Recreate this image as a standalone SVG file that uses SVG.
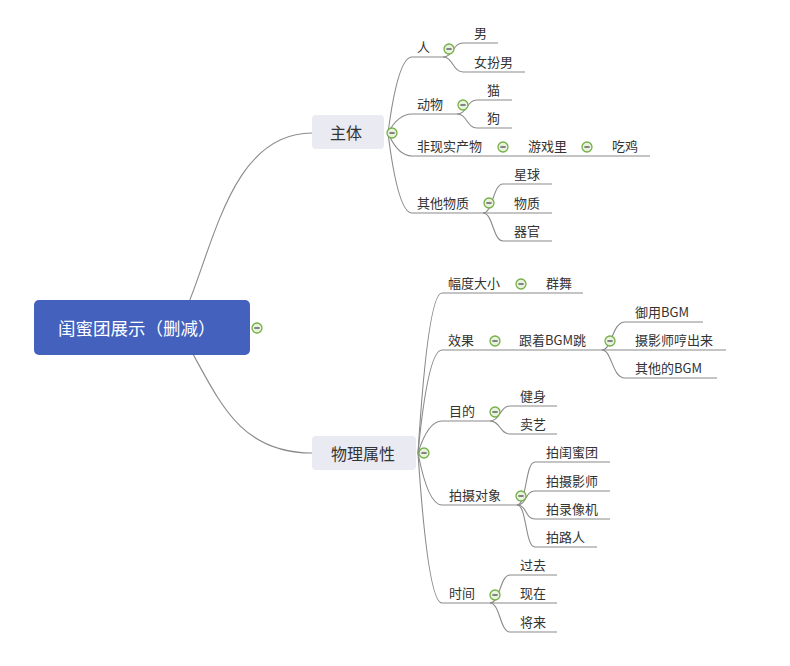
<svg xmlns="http://www.w3.org/2000/svg" xmlns:xlink="http://www.w3.org/1999/xlink" width="790" height="666" viewBox="0 0 790 666">
<style>
.c{fill:none;stroke:#8a8a8a;stroke-width:1.1}
.t{font-family:"Microsoft YaHei","Noto Sans CJK SC","Noto Sans",sans-serif;font-size:13px;fill:#333}
.m{font-family:"Microsoft YaHei","Noto Sans CJK SC","Noto Sans",sans-serif;font-size:16px;fill:#333;text-anchor:middle}
.r{font-family:"Microsoft YaHei","Noto Sans CJK SC","Noto Sans",sans-serif;font-size:17.5px;fill:#fff}
.box{fill:#eaeaf3}
</style>
<defs>
<g id="col">
<circle r="5" fill="#e9f1e0" stroke="#74b043" stroke-width="1.3"/>
<line x1="-2.6" y1="0" x2="2.6" y2="0" stroke="#555" stroke-width="1.4"/>
</g>
</defs>
<rect width="790" height="666" fill="#fff"/>
<g id="connectors">
<path class="c" d="M178 328 C212 260 226 133 312 133"/>
<path class="c" d="M178 328 C216 390 232 453 312 453"/>
<path class="c" d="M388 133 Q398 57 412 57 H443"/>
<path class="c" d="M443 57 C453 57 453 43 463 43 H498"/>
<path class="c" d="M443 57 C453 57 453 72 463 72 H525"/>
<path class="c" d="M388 133 Q398 114 412 114 H457"/>
<path class="c" d="M457 114 C467 114 467 100 477 100 H512"/>
<path class="c" d="M457 114 C467 114 467 128 477 128 H512"/>
<path class="c" d="M388 133 Q398 156 412 156 H650"/>
<path class="c" d="M388 133 Q398 213 412 213 H483"/>
<path class="c" d="M483 213 C493 213 493 184 503 184 H552"/>
<path class="c" d="M483 213 H552"/>
<path class="c" d="M483 213 C493 213 493 241 503 241 H552"/>
<path class="c" d="M418 453 Q428 293 442 293 H583"/>
<path class="c" d="M418 453 Q428 350 442 350 H602"/>
<path class="c" d="M602 350 C612 350 612 322 625 322 H703"/>
<path class="c" d="M602 350 H726"/>
<path class="c" d="M602 350 C612 350 612 378 625 378 H717"/>
<path class="c" d="M418 453 Q428 421 442 421 H490"/>
<path class="c" d="M490 421 C500 421 500 406 510 406 H557"/>
<path class="c" d="M490 421 C500 421 500 434 510 434 H557"/>
<path class="c" d="M418 453 Q428 505 442 505 H517"/>
<path class="c" d="M517 505 C527 505 525 462 535 462 H610"/>
<path class="c" d="M517 505 C527 505 525 491 535 491 H610"/>
<path class="c" d="M517 505 C527 505 525 519 535 519 H610"/>
<path class="c" d="M517 505 C527 505 525 547 535 547 H597"/>
<path class="c" d="M418 453 Q428 603 442 603 H490"/>
<path class="c" d="M490 603 C500 603 500 575 510 575 H557"/>
<path class="c" d="M490 603 H557"/>
<path class="c" d="M490 603 C500 603 500 632 510 632 H557"/>
</g>
<g id="root">
<rect x="34" y="300" width="216" height="55" rx="5" fill="#4361bd"/>
<text class="r" x="58" y="335">闺蜜团展示（删减）</text>
<use xlink:href="#col" x="257" y="328"/>
</g>
<g id="n-zhuti">
<rect class="box" x="312" y="115" width="72" height="34" rx="4"/>
<text class="m" x="346" y="139">主体</text>
<use xlink:href="#col" x="392" y="133"/>
</g>
<g id="n-ren"><text class="t" x="417" y="52">人</text><use xlink:href="#col" x="449" y="49"/></g>
<g id="n-nan"><text class="t" x="474" y="38">男</text></g>
<g id="n-nvbannan"><text class="t" x="474" y="67">女扮男</text></g>
<g id="n-dongwu"><text class="t" x="417" y="109">动物</text><use xlink:href="#col" x="463" y="105"/></g>
<g id="n-mao"><text class="t" x="487" y="95">猫</text></g>
<g id="n-gou"><text class="t" x="487" y="123">狗</text></g>
<g id="n-feixianshi"><text class="t" x="417" y="151">非现实产物</text><use xlink:href="#col" x="503" y="147"/></g>
<g id="n-youxili"><text class="t" x="528" y="151">游戏里</text><use xlink:href="#col" x="587" y="147"/></g>
<g id="n-chiji"><text class="t" x="612" y="151">吃鸡</text></g>
<g id="n-qita"><text class="t" x="417" y="208">其他物质</text><use xlink:href="#col" x="489" y="203"/></g>
<g id="n-xingqiu"><text class="t" x="514" y="179">星球</text></g>
<g id="n-wuzhi"><text class="t" x="514" y="208">物质</text></g>
<g id="n-qiguan"><text class="t" x="514" y="236">器官</text></g>
<g id="n-wuli">
<rect class="box" x="312" y="436" width="104" height="34" rx="4"/>
<text class="m" x="363" y="460">物理属性</text>
<use xlink:href="#col" x="424" y="453"/>
</g>
<g id="n-fudu"><text class="t" x="448" y="288">幅度大小</text><use xlink:href="#col" x="521" y="284"/></g>
<g id="n-qunwu"><text class="t" x="546" y="288">群舞</text></g>
<g id="n-xiaoguo"><text class="t" x="448" y="345">效果</text><use xlink:href="#col" x="495" y="341"/></g>
<g id="n-genzhe"><text class="t" x="519" y="345">跟着BGM跳</text><use xlink:href="#col" x="610" y="341"/></g>
<g id="n-yuyong"><text class="t" x="635" y="317">御用BGM</text></g>
<g id="n-sheying"><text class="t" x="635" y="345">摄影师哼出来</text></g>
<g id="n-qitabgm"><text class="t" x="635" y="373">其他的BGM</text></g>
<g id="n-mudi"><text class="t" x="449" y="416">目的</text><use xlink:href="#col" x="495" y="412"/></g>
<g id="n-jianshen"><text class="t" x="520" y="401">健身</text></g>
<g id="n-maiyi"><text class="t" x="520" y="429">卖艺</text></g>
<g id="n-paishe"><text class="t" x="449" y="500">拍摄对象</text><use xlink:href="#col" x="521" y="496"/></g>
<g id="n-p1"><text class="t" x="546" y="457">拍闺蜜团</text></g>
<g id="n-p2"><text class="t" x="546" y="486">拍摄影师</text></g>
<g id="n-p3"><text class="t" x="546" y="514">拍录像机</text></g>
<g id="n-p4"><text class="t" x="546" y="542">拍路人</text></g>
<g id="n-shijian"><text class="t" x="449" y="598">时间</text><use xlink:href="#col" x="495" y="595"/></g>
<g id="n-guoqu"><text class="t" x="520" y="570">过去</text></g>
<g id="n-xianzai"><text class="t" x="520" y="598">现在</text></g>
<g id="n-jianglai"><text class="t" x="520" y="627">将来</text></g>
</svg>
